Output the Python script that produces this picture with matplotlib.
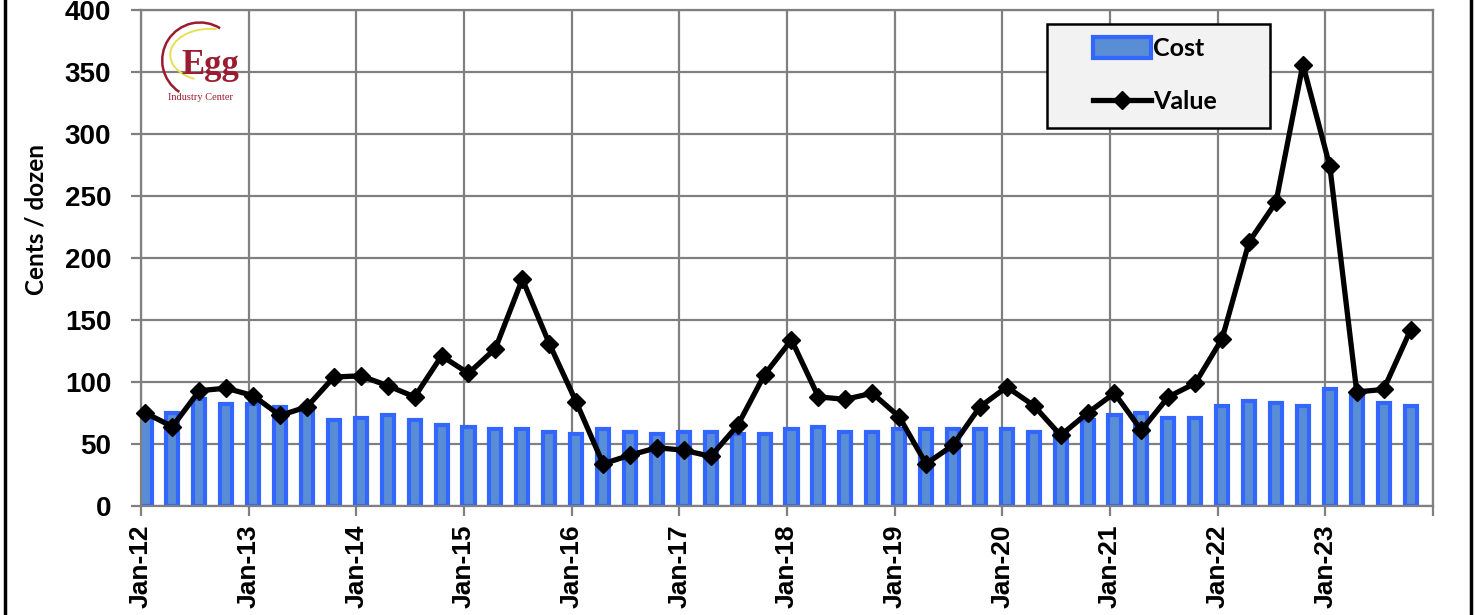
import matplotlib
matplotlib.use("Agg")
import matplotlib.pyplot as plt
from matplotlib.patches import Arc, Rectangle
from matplotlib.lines import Line2D
import numpy as np

# quarterly data, Jan-12 .. Oct-23
years = list(range(12, 24))
cost = [72, 75, 86, 82, 82, 80, 77, 69,
        71, 73, 69, 65, 64, 62, 62, 60,
        58, 62, 60, 58, 60, 60, 58, 58,
        62, 64, 60, 60, 62, 62, 62, 62,
        62, 60, 59, 69, 73, 75, 71, 71,
        81, 85, 83, 81, 94, 90, 83, 81]
value = [75, 64, 93, 95, 89, 73, 80, 104,
         105, 97, 88, 121, 107, 127, 183, 131,
         84, 34, 41, 47, 45, 40, 65, 106,
         134, 88, 86, 91, 72, 34, 49, 80,
         96, 81, 57, 75, 91, 61, 88, 99,
         135, 213, 245, 356, 274, 92, 94, 142]
yticks = [0, 50, 100, 150, 200, 250, 300, 350, 400]

W, H = 1478, 615


def main():
    fig = plt.figure(figsize=(W / 100, H / 100), dpi=100)
    ax = fig.add_axes([141 / W, 1 - 506 / H, 1292 / W, 496 / H])

    # months since Jan-12, data sits mid-month
    x = np.arange(len(cost)) * 3 + 0.5

    grey = "#808080"
    bars = ax.bar(x, cost, width=1.35, color="#5a8ed4", edgecolor="#3366ff",
                  linewidth=3.0, label="Cost", zorder=2)
    line, = ax.plot(x, value, color="black", lw=3.8, marker="D", markersize=9,
                    label="Value", zorder=3, clip_on=False)

    ax.set_xlim(0, 144)
    ax.set_ylim(0, 400)
    ax.set_yticks(yticks)
    ax.set_xticks(np.arange(0, 145, 12))
    ax.set_xticklabels(["Jan-%d" % y for y in years] + [""])

    ax.set_axisbelow(True)
    ax.grid(True, color=grey, lw=1.6)
    for s in ax.spines.values():
        s.set_color(grey)
        s.set_linewidth(1.6)
    ax.tick_params(axis="both", color=grey, width=1.6, length=7)
    ax.tick_params(axis="x", pad=6)
    ax.tick_params(axis="y", pad=14.5)
    for lab in ax.get_xticklabels():
        lab.set_rotation(90)
        lab.set_fontweight("bold")
        lab.set_family("Liberation Sans")
        lab.set_fontsize(19)
    for lab in ax.get_yticklabels():
        lab.set_fontweight("bold")
        lab.set_family("Liberation Sans")
        lab.set_fontsize(20)

    ax.set_ylabel("Cents / dozen", fontsize=17.5, fontweight="bold", family="Lato")
    ax.yaxis.set_label_coords(-0.072, 0.577)

    # legend frame drawn by hand so it can be as wide as in the picture
    ax.add_patch(Rectangle(((1047 - 141) / 1292, (506 - 128) / 496),
                           223 / 1292, 104 / 496, transform=ax.transAxes,
                           facecolor="#f2f2f2", edgecolor="black", lw=1.8,
                           zorder=4, clip_on=False))
    leg = ax.legend([bars, line], ["Cost", "Value"], loc="upper left",
                    bbox_to_anchor=((1093 - 141) / 1292, (506 - 37) / 496),
                    prop={"family": "Lato", "weight": "bold", "size": 18},
                    frameon=False, handlelength=2.3, handleheight=0.9,
                    handletextpad=0.1, borderpad=0, labelspacing=1.2,
                    borderaxespad=0)
    leg.set_zorder(5)

    # chart border, cut at top and bottom
    fig.add_artist(Line2D([5 / W, 5 / W], [0, 1], color="black", lw=2.5))
    fig.add_artist(Line2D([1471 / W, 1471 / W], [0, 1], color="black", lw=2.5))

    # Egg Industry Center logo
    lg = fig.add_axes([158 / W, 1 - 108 / H, 84 / W, 90 / H])
    lg.set_xlim(0, 1)
    lg.set_ylim(0, 1)
    lg.axis("off")
    lg.add_patch(Arc((0.5, 0.53), 0.9, 0.84, theta1=56, theta2=235,
                     color="#9b1b30", lw=1.8))
    lg.add_patch(Arc((0.62, 0.59), 0.95, 0.58, theta1=75, theta2=235,
                     color="#e8e050", lw=1.4))
    lg.text(0.62, 0.47, "Egg", family="Liberation Serif", fontsize=25,
            fontweight="bold", color="#9b1b30", ha="center", va="center")
    lg.text(0.5, 0.12, "Industry Center", family="Liberation Serif",
            fontsize=7.5, color="#9b1b30", ha="center", va="center")

    fig.savefig("out.png", dpi=100)


if __name__ == "__main__":
    main()
